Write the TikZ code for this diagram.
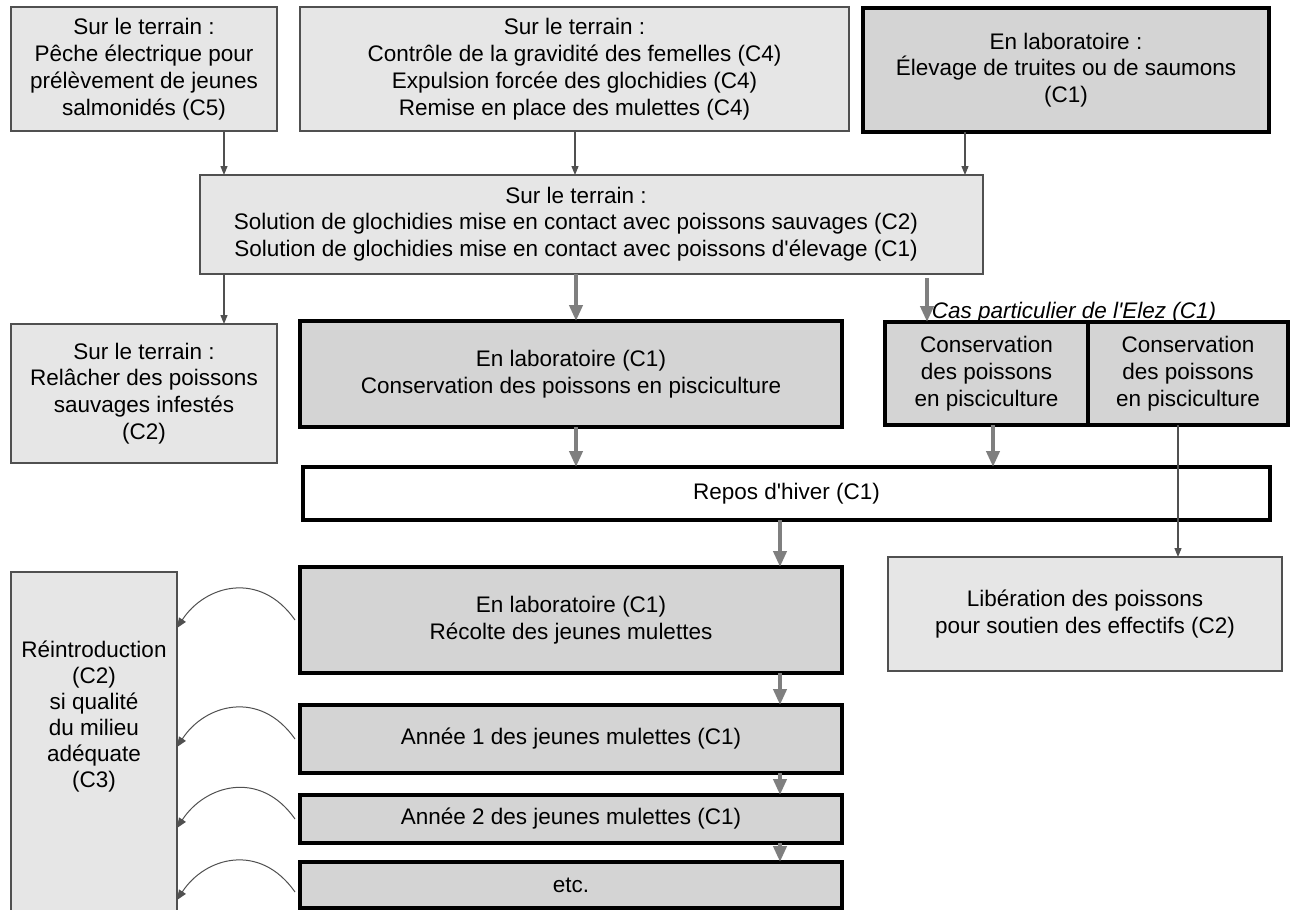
\documentclass[tikz,border=0pt]{standalone}
\usepackage{fontspec}
\newfontfamily\arialf{Liberation Sans}
\usetikzlibrary{arrows.meta}
\definecolor{lightbox}{HTML}{E6E6E6}
\definecolor{darkbox}{HTML}{D4D4D4}
\definecolor{thinline}{HTML}{505050}
\definecolor{thickarrow}{HTML}{7F7F7F}
\begin{document}
\begin{tikzpicture}[x=1pt,y=-1pt,
  every node/.style={font=\arialf\fontsize{22.5}{26.8}\selectfont, align=center, inner sep=0pt, outer sep=0pt},
  lbox/.style={draw=thinline, line width=1.3pt, fill=lightbox},
  hbox/.style={draw=black, line width=4pt, fill=darkbox},
  wbox/.style={draw=black, line width=4pt, fill=white},
  tarrow/.style={draw=thinline, line width=1.2pt, -{Triangle[length=9pt,width=7pt]}},
  garrow/.style={draw=thickarrow, line width=4pt, -{Triangle[length=16pt,width=13pt]}},
  carrow/.style={draw=thinline, line width=1pt, -{Triangle[length=10pt,width=8pt]}}
]
\clip (0,0) rectangle (1291,910);
\fill[white] (0,0) rectangle (1291,910);

% top row
\node[lbox, minimum width=266pt, minimum height=124pt] (b1) at (144,69)
  {Sur le terrain :\\Pêche électrique pour\\prélèvement de jeunes\\salmonidés (C5)};
\node[lbox, minimum width=549pt, minimum height=124pt] (b2) at (574.5,69)
  {Sur le terrain :\\Contrôle de la gravidité des femelles (C4)\\Expulsion forcée des glochidies (C4)\\Remise en place des mulettes (C4)};
\node[hbox, minimum width=406pt, minimum height=124pt] (b3) at (1066,70)
  {En laboratoire :\\Élevage de truites ou de saumons\\(C1)};

% middle
\node[lbox, minimum width=783pt, minimum height=99pt] (mid) at (591.5,224.5) {};
\node (midtxt) at (576,224)
  {Sur le terrain :\\Solution de glochidies mise en contact avec poissons sauvages (C2)\\Solution de glochidies mise en contact avec poissons d'élevage (C1)};

% third row
\node[lbox, minimum width=266pt, minimum height=139pt] (rel) at (144,393.5)
  {Sur le terrain :\\Relâcher des poissons\\sauvages infestés\\(C2)};
\node[hbox, minimum width=542pt, minimum height=106pt] (lab1) at (571,374)
  {En laboratoire (C1)\\Conservation des poissons en pisciculture};
\node[hbox, minimum width=203pt, minimum height=103pt] (cons1) at (986.5,373.5)
  {Conservation\\des poissons\\en pisciculture};
\node[hbox, minimum width=200pt, minimum height=103pt] (cons2) at (1188,373.5)
  {Conservation\\des poissons\\en pisciculture};
\node[font=\arialf\itshape\fontsize{22.5}{26.8}\selectfont, anchor=base] (elez) at (1074,318)
  {Cas particulier de l'Elez (C1)};

% repos
\node[wbox, minimum width=967pt, minimum height=53pt] (repos) at (786.5,493.5) {Repos d'hiver (C1)};

% lower part
\node[hbox, minimum width=542pt, minimum height=106pt] (lab2) at (571,620)
  {En laboratoire (C1)\\Récolte des jeunes mulettes};
\node[lbox, minimum width=394pt, minimum height=114pt] (lib) at (1085,614)
  {Libération des poissons\\pour soutien des effectifs (C2)};
\node[lbox, minimum width=166pt, minimum height=358pt] (reint) at (94,751) {};
\node[font=\arialf\fontsize{22.5}{26}\selectfont] (reinttxt) at (94,717)
  {Réintroduction\\(C2)\\si qualité\\du milieu\\adéquate\\(C3)};
\node[hbox, minimum width=542pt, minimum height=68pt] (y1) at (571,739) {Année 1 des jeunes mulettes (C1)};
\node[hbox, minimum width=542pt, minimum height=48pt] (y2) at (571,819) {Année 2 des jeunes mulettes (C1)};
\node[hbox, minimum width=542pt, minimum height=46pt] (etc) at (571,885) {etc.};

% connectors top
\draw[tarrow] ([xshift=80pt]b1.south) -- ([xshift=80pt]b1.south |- mid.north);
\draw[tarrow] ([xshift=0.5pt]b2.south) -- ([xshift=0.5pt]b2.south |- mid.north);
\draw[tarrow] ([xshift=-101pt]b3.south) -- ([xshift=-101pt]b3.south |- mid.north);

% from middle
\draw[tarrow] ([xshift=80pt]rel.north |- mid.south) -- ([xshift=80pt]rel.north);
\draw[garrow] ([xshift=5pt]lab1.north |- mid.south) -- ([xshift=5pt]lab1.north);
\coordinate (m6) at ([xshift=-59.5pt]cons1.north |- mid.south);
\draw[garrow] ([yshift=-4pt]m6) -- ([xshift=-59.5pt]cons1.north);

% to repos / liberation
\draw[garrow] ([xshift=5pt]lab1.south) -- ([xshift=5pt]lab1.south |- repos.north);
\draw[garrow] ([xshift=6.5pt]cons1.south) -- ([xshift=6.5pt]cons1.south |- repos.north);
\draw[tarrow] ([xshift=-10pt]cons2.south) -- ([xshift=-10pt]cons2.south |- lib.north);

% chain
\draw[garrow] ([xshift=209pt]lab2.north |- repos.south) -- ([xshift=209pt]lab2.north);
\draw[garrow] ([xshift=209pt]lab2.south) -- ([xshift=209pt]y1.north);
\draw[garrow] ([xshift=209pt]y1.south) -- ([xshift=209pt]y2.north);
\draw[garrow] ([xshift=209pt]y2.south) -- ([xshift=209pt]etc.north);

% curved arrows to reintroduction
\coordinate (s1) at ([xshift=-5pt]lab2.west);
\coordinate (e1) at ([yshift=-8pt]reint.east |- s1);
\coordinate (s2) at ([xshift=-5pt]y1.west);
\coordinate (e2) at ([yshift=-8pt]reint.east |- s2);
\coordinate (s3) at ([xshift=-5pt]y2.west);
\coordinate (e3) at ([yshift=-9pt]reint.east |- s3);
\coordinate (s4) at ([xshift=-5pt,yshift=-7pt]etc.west);
\coordinate (e4) at ([yshift=-8pt]reint.east |- s4);
\draw[carrow] (s1) .. controls +(-35,-50) and +(28,-43) .. (e1);
\draw[carrow] (s2) .. controls +(-35,-50) and +(28,-43) .. (e2);
\draw[carrow] (s3) .. controls +(-35,-50) and +(28,-43) .. (e3);
\draw[carrow] (s4) .. controls +(-35,-50) and +(28,-43) .. (e4);
\end{tikzpicture}
\end{document}
